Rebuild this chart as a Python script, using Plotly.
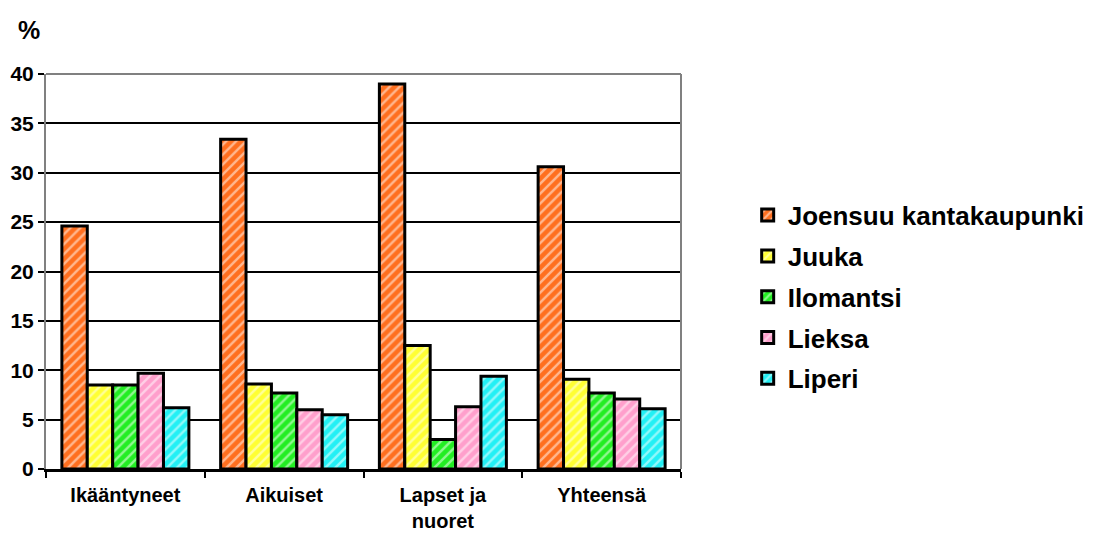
import plotly.graph_objects as go

categories = ["Ikääntyneet", "Aikuiset", "Lapset ja<br>nuoret", "Yhteensä"]
series_names = ["Joensuu kantakaupunki", "Juuka", "Ilomantsi", "Lieksa", "Liperi"]
joensuu = [24.6, 33.4, 39.0, 30.6]
juuka = [8.5, 8.6, 12.5, 9.1]
ilomantsi = [8.5, 7.7, 3.0, 7.7]
lieksa = [9.7, 6.0, 6.3, 7.1]
liperi = [6.2, 5.5, 9.4, 6.1]
colors = ["#FF6F1F", "#FFFF33", "#22EE22", "#FF9FCC", "#22F0F5"]

y_ticks = [0, 5, 10, 15, 20, 25, 30, 35, 40]

FONT = "Arial"

fig = go.Figure()
for name, vals, col in zip(series_names, [joensuu, juuka, ilomantsi, lieksa, liperi], colors):
    fig.add_trace(go.Bar(
        name=name,
        legendgroup=name,
        x=categories,
        y=vals,
        marker=dict(
            color=col,
            line=dict(color="black", width=3),
            pattern=dict(shape="/", fgcolor="white", fillmode="overlay",
                         size=7, solidity=0.35),
        ),
    ))

fig.update_layout(
    width=1094, height=534,
    margin=dict(l=46, r=413, t=74, b=65, autoexpand=False),
    paper_bgcolor="white",
    plot_bgcolor="white",
    barmode="group",
    bargap=0.2,
    bargroupgap=0,
    font=dict(family=FONT, color="black", weight=700),
    legend=dict(
        x=1.105, y=0.435, xanchor="left", yanchor="middle",
        font=dict(size=26, family=FONT, color="black", weight=700),
        itemwidth=30, traceorder="grouped", tracegroupgap=4,
        bgcolor="rgba(0,0,0,0)",
    ),
    annotations=[dict(
        text="%", xref="paper", yref="paper", x=-0.048, y=1.111,
        xanchor="left", yanchor="middle", showarrow=False,
        font=dict(size=25, family=FONT, color="black", weight=700),
    )],
    shapes=[
        dict(type="line", xref="paper", yref="paper", x0=0, x1=1, y0=1, y1=1,
             line=dict(color="#808080", width=2), layer="above"),
        dict(type="line", xref="paper", yref="paper", x0=1, x1=1, y0=0, y1=1,
             line=dict(color="#808080", width=2), layer="above"),
    ],
)

fig.update_yaxes(
    range=[0, 40], tickvals=y_ticks,
    showgrid=True, gridcolor="black", gridwidth=2,
    showline=True, linecolor="#808080", linewidth=2,
    ticks="outside", ticklen=6, tickwidth=2, tickcolor="black",
    tickfont=dict(size=21, family=FONT, color="black", weight=700),
    zeroline=False,
)
fig.update_xaxes(
    showline=True, linecolor="black", linewidth=3,
    ticks="outside", tickson="boundaries", ticklen=6, tickwidth=2, tickcolor="black",
    tickfont=dict(size=20, family=FONT, color="black", weight=700),
    ticklabelstandoff=6,
    showgrid=False,
)

fig.write_html("out.html")
